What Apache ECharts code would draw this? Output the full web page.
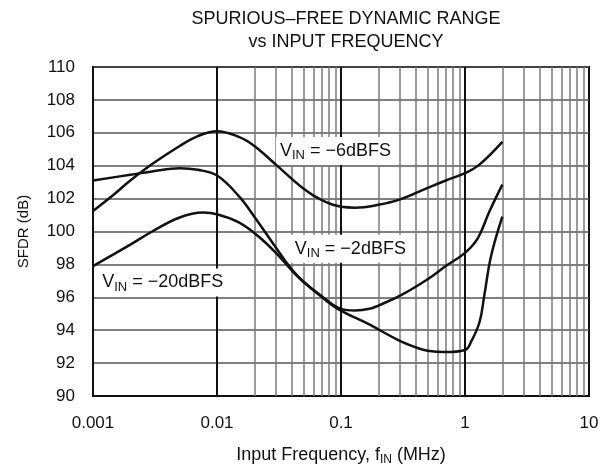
<!DOCTYPE html>
<html>
<head>
<meta charset="utf-8">
<script src="https://cdn.jsdelivr.net/npm/echarts@6/dist/echarts.min.js"></script>
<style>
html, body { margin: 0; background: #fff; }
#chart { width: 608px; height: 471px; }
</style>
</head>
<body>
<div id="chart"></div>
<script>
// SFDR vs input frequency
var freqM6 = [0.001, 0.0015, 0.002, 0.003, 0.005, 0.007, 0.01, 0.015, 0.02, 0.03, 0.05, 0.07, 0.1, 0.13, 0.2, 0.3, 0.5, 0.7, 1, 1.3, 2];
var sfdrM6 = [101.25, 102.3, 103.1, 104.1, 105.2, 105.8, 106.1, 105.75, 105.2, 104.05, 102.6, 101.9, 101.5, 101.45, 101.62, 101.95, 102.65, 103.1, 103.55, 104.05, 105.45];

var freqM2 = [0.001, 0.002, 0.003, 0.005, 0.007, 0.01, 0.015, 0.02, 0.03, 0.04, 0.05, 0.07, 0.1, 0.13, 0.17, 0.2, 0.3, 0.5, 0.7, 1, 1.27, 1.57, 2];
var sfdrM2 = [103.1, 103.45, 103.65, 103.85, 103.75, 103.4, 102.15, 100.9, 99.0, 97.7, 96.95, 96.07, 95.3, 95.2, 95.3, 95.5, 96.1, 97.1, 97.9, 98.7, 99.6, 101.2, 102.85];

var freqM20 = [0.001, 0.0015, 0.002, 0.003, 0.005, 0.0077, 0.01, 0.015, 0.022, 0.032, 0.046, 0.066, 0.095, 0.166, 0.29, 0.42, 0.5, 0.68, 1, 1.12, 1.31, 1.43, 1.62, 2];
var sfdrM20 = [97.9, 98.66, 99.2, 100.0, 100.85, 101.15, 101.05, 100.55, 99.65, 98.46, 97.16, 96.17, 95.28, 94.38, 93.4, 92.9, 92.75, 92.67, 92.8, 93.3, 94.5, 96.1, 98.48, 100.9];

var decades = [0.01, 0.1, 1];
var minorFreqs = [];
[0.001, 0.01, 0.1, 1].forEach(function (d) {
    for (var k = 2; k <= 9; k++) minorFreqs.push(+(d * k).toPrecision(3));
});

var FONT = '"Liberation Sans", Arial, sans-serif';

function zip(xs, ys) {
    return xs.map(function (x, i) { return [x, ys[i]]; });
}

function curve(name, xs, ys, label, at) {
    return {
        name: name,
        type: 'line',
        data: zip(xs, ys),
        smooth: 0.4,
        showSymbol: false,
        z: 5,
        lineStyle: { color: '#111', width: 2.5 },
        markPoint: {
            silent: true,
            symbol: 'rect',
            symbolSize: 0,
            data: [{ coord: at }],
            label: {
                show: true,
                position: 'right',
                distance: 0,
                backgroundColor: '#fff',
                padding: [3, 4, 3, 4],
                color: '#111',
                fontFamily: FONT,
                formatter: '{v|V}{s|IN}{v| = ' + label + '}',
                rich: {
                    v: { fontSize: 18, fontFamily: FONT, color: '#111' },
                    s: { fontSize: 13, fontFamily: FONT, color: '#111', padding: [9, 0, 0, 0] }
                }
            }
        }
    };
}

var gridLines = minorFreqs.map(function (f) {
    return { xAxis: f };
}).concat(decades.map(function (f) {
    return { xAxis: f, lineStyle: { color: '#111', width: 2 } };
}));

var chart = echarts.init(document.getElementById('chart'));

var option = {
    backgroundColor: '#ffffff',
    animation: false,
    title: {
        text: 'SPURIOUS–FREE DYNAMIC RANGE\nvs INPUT FREQUENCY',
        left: 341,
        top: 3,
        textAlign: 'center',
        textStyle: { fontFamily: FONT, fontSize: 18, fontWeight: 'normal', color: '#111', lineHeight: 23 }
    },
    grid: {
        left: 93, right: 19, top: 67, bottom: 69,
        show: true, borderColor: '#111', borderWidth: 2
    },
    xAxis: {
        type: 'log',
        logBase: 10,
        min: 0.001,
        max: 10,
        name: '{t|Input Frequency, f}{s|IN}{t| (MHz)}',
        nameLocation: 'middle',
        nameGap: 49,
        nameTextStyle: {
            rich: {
                t: { fontSize: 18, fontFamily: FONT, color: '#111' },
                s: { fontSize: 12, fontFamily: FONT, color: '#111', padding: [9, 0, 0, 0] }
            }
        },
        axisLine: { lineStyle: { color: '#111', width: 2 } },
        axisTick: { show: false },
        axisLabel: { fontFamily: FONT, fontSize: 17, color: '#111', margin: 19 },
        splitLine: { show: false }
    },
    yAxis: {
        type: 'value',
        min: 90,
        max: 110,
        interval: 2,
        name: 'SFDR (dB)',
        nameLocation: 'middle',
        nameGap: 62,
        nameTextStyle: { fontFamily: FONT, fontSize: 15, color: '#111' },
        axisLine: { lineStyle: { color: '#111', width: 2 } },
        axisTick: { show: false },
        axisLabel: { fontFamily: FONT, fontSize: 17, color: '#111', margin: 18 },
        splitLine: { lineStyle: { color: '#555', width: 1.5 } }
    },
    series: [
        {
            name: 'grid lines',
            type: 'line',
            data: [],
            z: 1,
            markLine: {
                silent: true,
                symbol: 'none',
                label: { show: false },
                lineStyle: { color: '#7a7a7a', width: 1.5, type: 'solid' },
                data: gridLines
            }
        },
        curve('-6dBFS', freqM6, sfdrM6, '−6dBFS', [0.0299, 104.9]),
        curve('-2dBFS', freqM2, sfdrM2, '−2dBFS', [0.0394, 98.95]),
        curve('-20dBFS', freqM20, sfdrM20, '−20dBFS', [0.0011, 96.9])
    ]
};

chart.setOption(option);
</script>
</body>
</html>
